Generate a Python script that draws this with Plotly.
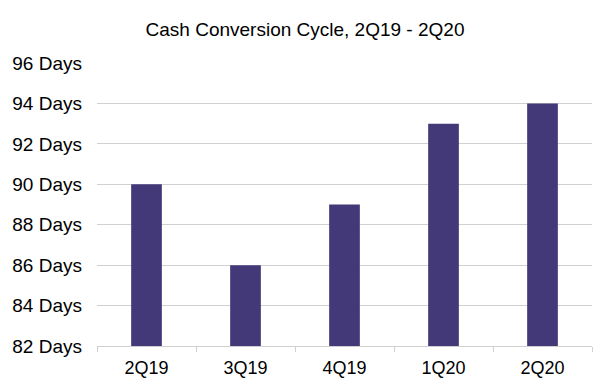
import plotly.graph_objects as go

categories = ["2Q19", "3Q19", "4Q19", "1Q20", "2Q20"]
values = [90, 86, 89, 93, 94]
y_ticks = [82, 84, 86, 88, 90, 92, 94, 96]
y_tick_labels = [f"{v} Days" for v in y_ticks]

# page body has an 8px default margin; size the figure to fit the 613x391 window
W, H = 605, 383

fig = go.Figure(go.Bar(x=categories, y=values, marker_color="#433878",
                       marker_line_width=0, width=0.31))

fig.update_layout(
    width=W, height=H,
    margin=dict(l=89, r=21, t=55, b=45, autoexpand=False),
    paper_bgcolor="white", plot_bgcolor="white",
    font=dict(family="Liberation Sans, Arial, sans-serif", color="black"),
    title=dict(text="Cash Conversion Cycle, 2Q19 - 2Q20",
               xref="container", x=(305 - 8) / W, xanchor="center",
               y=1 - 21 / H, yanchor="middle", font=dict(size=19)),
    showlegend=False,
)
fig.update_yaxes(range=[82, 96], tickvals=y_ticks, ticktext=y_tick_labels,
                 showgrid=True, gridcolor="#d0d0d0", gridwidth=1,
                 zeroline=False, showline=False, tickfont=dict(size=19),
                 ticks="", ticklabelstandoff=14, automargin=False)
fig.update_xaxes(showline=True, linecolor="#d0d0d0", linewidth=1,
                 ticks="outside", tickcolor="#d0d0d0", ticklen=5,
                 tickson="boundaries", tickfont=dict(size=18),
                 ticklabelstandoff=5, showgrid=False, automargin=False)

fig.write_html("out.html")
